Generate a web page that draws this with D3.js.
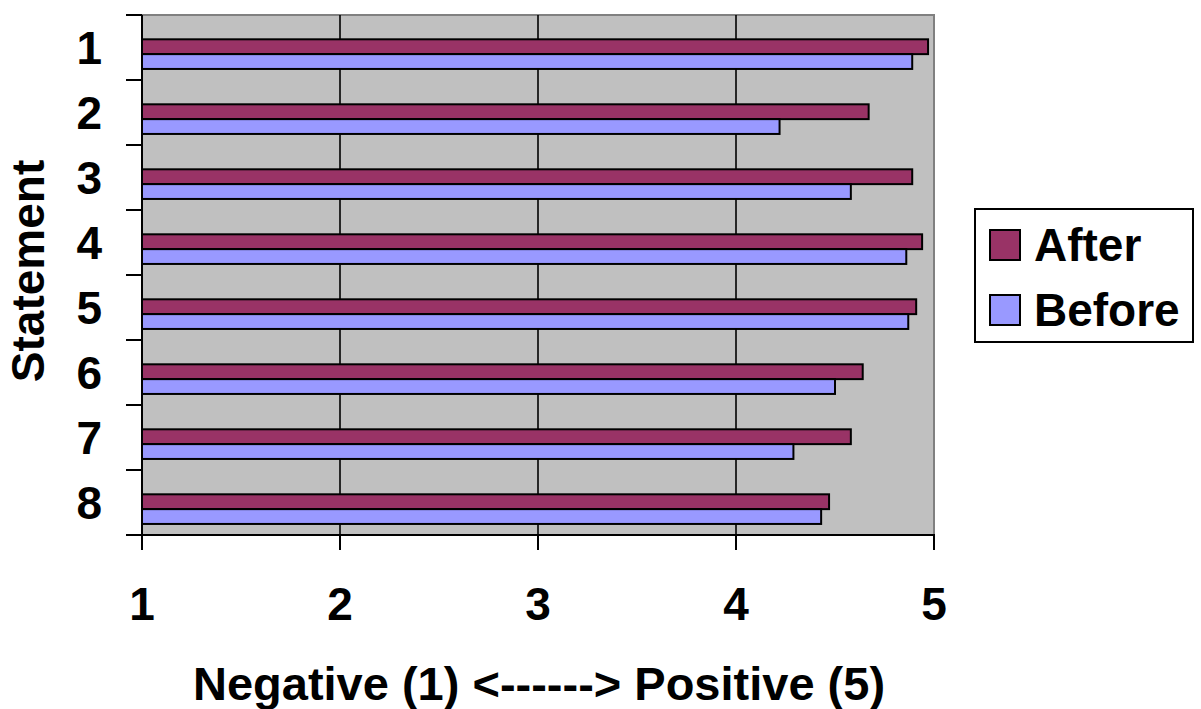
<!DOCTYPE html>
<html>
<head>
<meta charset="utf-8">
<script src="https://cdn.jsdelivr.net/npm/d3@7"></script>
<style>
  html, body { margin: 0; padding: 0; background: #ffffff; }
  svg { display: block; }
  text { font-family: "Liberation Sans", Arial, sans-serif; font-weight: bold; fill: #000; }
</style>
</head>
<body>
<svg id="chart" width="1201" height="709"></svg>
<script>
// Survey statements, mean score before and after (scale 1 = negative, 5 = positive)
const statements = ["1", "2", "3", "4", "5", "6", "7", "8"];
const afterScores  = [4.97, 4.67, 4.89, 4.94, 4.91, 4.64, 4.58, 4.47];
const beforeScores = [4.89, 4.22, 4.58, 4.86, 4.87, 4.50, 4.29, 4.43];
const seriesNames = ["After", "Before"];
const seriesColors = ["#993366", "#9999FF"];
const xTicks = [1, 2, 3, 4, 5];

const svg = d3.select("#chart");
const plot = { left: 142, right: 934, top: 15, bottom: 535 };

const x = d3.scaleLinear().domain([1, 5]).range([plot.left, plot.right]);
const y = d3.scaleBand().domain(statements).range([plot.top, plot.bottom]).padding(0);
const bw = y.bandwidth();
const inner = d3.scaleBand().domain(seriesNames).range([bw * 0.374, bw * 0.83]).padding(0);
const color = d3.scaleOrdinal().domain(seriesNames).range(seriesColors);

const rows = statements.map((s, i) => ({ s, After: afterScores[i], Before: beforeScores[i] }));

// plot background
svg.append("rect")
  .attr("x", plot.left).attr("y", plot.top)
  .attr("width", plot.right - plot.left).attr("height", plot.bottom - plot.top)
  .attr("fill", "#C0C0C0");

// gray top/right frame
svg.append("path")
  .attr("d", `M${plot.left},${plot.top}H${plot.right}V${plot.bottom}`)
  .attr("fill", "none").attr("stroke", "#808080").attr("stroke-width", 2);

// vertical gridlines
svg.append("g").selectAll("line")
  .data(xTicks.filter(t => t > 1 && t < 5))
  .join("line")
  .attr("x1", d => x(d)).attr("x2", d => x(d))
  .attr("y1", plot.top).attr("y2", plot.bottom)
  .attr("stroke", "#000").attr("stroke-width", 1.6);

// bars
const groups = svg.append("g").selectAll("g")
  .data(rows).join("g")
  .attr("transform", d => `translate(0,${y(d.s)})`);

groups.selectAll("rect")
  .data(d => seriesNames.map(k => ({ key: k, value: d[k] })))
  .join("rect")
  .attr("x", x(1))
  .attr("y", d => inner(d.key))
  .attr("width", d => x(d.value) - x(1))
  .attr("height", inner.bandwidth())
  .attr("fill", d => color(d.key))
  .attr("stroke", "#000").attr("stroke-width", 2);

// left axis (category boundaries as ticks)
const yTickPos = d3.range(statements.length + 1).map(i => plot.top + i * bw);
svg.append("line")
  .attr("x1", plot.left).attr("x2", plot.left)
  .attr("y1", plot.top).attr("y2", plot.bottom + 1)
  .attr("stroke", "#000").attr("stroke-width", 2);
svg.append("g").selectAll("line")
  .data(yTickPos).join("line")
  .attr("x1", plot.left - 16).attr("x2", plot.left)
  .attr("y1", d => d).attr("y2", d => d)
  .attr("stroke", "#000").attr("stroke-width", 2);
svg.append("g").selectAll("text")
  .data(statements).join("text")
  .attr("x", 102)
  .attr("y", d => y(d) + bw / 2 + 16)
  .attr("text-anchor", "end")
  .attr("font-size", 46)
  .text(d => d);

// bottom axis
svg.append("line")
  .attr("x1", plot.left - 1).attr("x2", plot.right + 1)
  .attr("y1", plot.bottom).attr("y2", plot.bottom)
  .attr("stroke", "#000").attr("stroke-width", 2);
svg.append("g").selectAll("line")
  .data(xTicks).join("line")
  .attr("x1", d => x(d)).attr("x2", d => x(d))
  .attr("y1", plot.bottom).attr("y2", plot.bottom + 15)
  .attr("stroke", "#000").attr("stroke-width", 2);
svg.append("g").selectAll("text")
  .data(xTicks).join("text")
  .attr("x", d => x(d))
  .attr("y", 620)
  .attr("text-anchor", "middle")
  .attr("font-size", 46)
  .text(d => d);

// axis titles
svg.append("text")
  .attr("x", (plot.left + plot.right) / 2 + 1)
  .attr("y", 700)
  .attr("text-anchor", "middle")
  .attr("font-size", 47)
  .text("Negative (1) <------> Positive (5)");

svg.append("text")
  .attr("transform", "translate(44,271) rotate(-90)")
  .attr("text-anchor", "middle")
  .attr("font-size", 46)
  .text("Statement");

// legend
const legend = svg.append("g");
legend.append("rect")
  .attr("x", 975).attr("y", 209).attr("width", 218).attr("height", 133)
  .attr("fill", "#fff").attr("stroke", "#000").attr("stroke-width", 2);
const items = legend.selectAll("g.item")
  .data(seriesNames).join("g")
  .attr("class", "item")
  .attr("transform", (d, i) => `translate(0,${i * 65})`);
items.append("rect")
  .attr("x", 990).attr("y", 230).attr("width", 30).attr("height", 30)
  .attr("fill", d => color(d))
  .attr("stroke", "#000").attr("stroke-width", 2);
items.append("text")
  .attr("x", 1034).attr("y", 261)
  .attr("font-size", 46)
  .text(d => d);
</script>
</body>
</html>
